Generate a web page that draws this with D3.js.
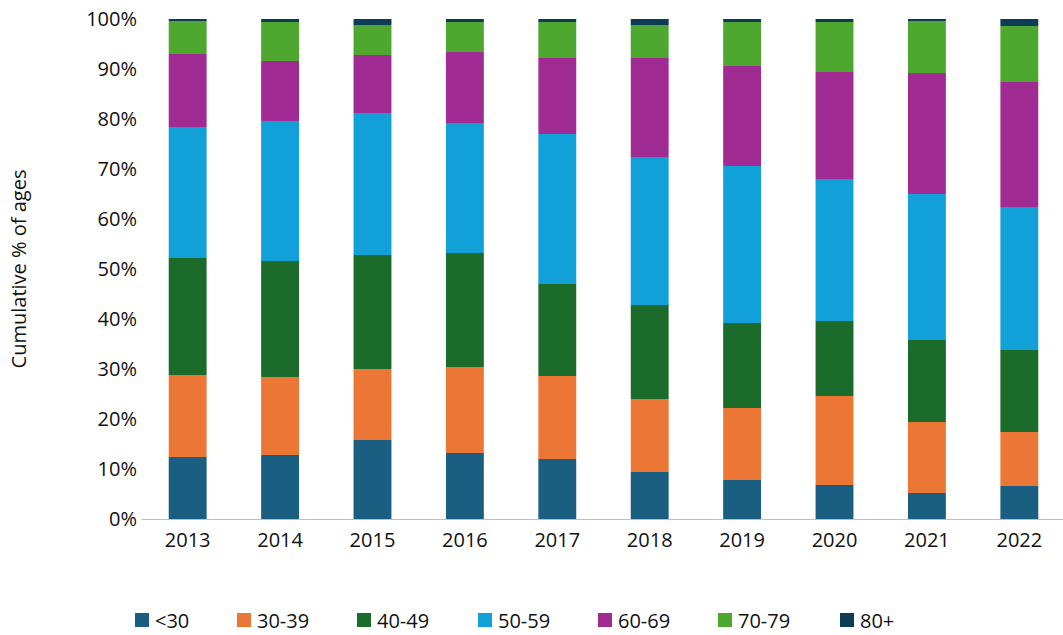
<!DOCTYPE html>
<html><head><meta charset="utf-8">
<script src="https://cdn.jsdelivr.net/npm/d3@7"></script>
<style>body{margin:0;background:#fff}text{font-family:"Open Sans","Liberation Sans",sans-serif;fill:#111}</style>
</head><body><svg id="chart" width="1063" height="635"></svg>
<script>
const years = ["2013","2014","2015","2016","2017","2018","2019","2020","2021","2022"];
const groups = ["<30","30-39","40-49","50-59","60-69","70-79","80+"];
const colors = ["#1a5f82","#ec7635","#1b6b2a","#12a0d8","#a02b92","#4ea72e","#0e3b55"];
// cumulative tops (%) per year, in group order
const cumTops = [
  [12.4,28.8,52.2,78.4,93.0,99.6,100],
  [12.8,28.4,51.6,79.6,91.6,99.4,100],
  [15.8,30.0,52.8,81.2,92.8,98.8,100],
  [13.2,30.4,53.2,79.2,93.4,99.4,100],
  [12.0,28.6,47.0,77.0,92.2,99.4,100],
  [9.4,24.0,42.8,72.4,92.2,98.8,100],
  [7.8,22.2,39.2,70.6,90.6,99.4,100],
  [6.8,24.6,39.6,68.0,89.4,99.4,100],
  [5.2,19.4,35.8,65.0,89.2,99.6,100],
  [6.6,17.4,33.8,62.4,87.4,98.6,100]
];
const yTicks = [0,10,20,30,40,50,60,70,80,90,100];

const svg = d3.select("#chart");
const m = {l:141, r:1066, t:19, b:519};
const x = d3.scaleBand().domain(years).range([m.l, m.r]).paddingInner(0.59).paddingOuter(0.3);
const y = d3.scaleLinear().domain([0,100]).range([m.b, m.t]);

const g = svg.append("g");
years.forEach((yr, i) => {
  cumTops[i].forEach((top, j) => {
    const bot = j ? cumTops[i][j-1] : 0;
    g.append("rect").attr("x", x(yr)).attr("width", x.bandwidth())
      .attr("y", y(top)).attr("height", y(bot) - y(top)).attr("fill", colors[j]);
  });
});

const ya = svg.append("g").attr("transform", `translate(${m.l},0)`)
  .call(d3.axisLeft(y).tickValues(yTicks).tickFormat(d => d + "%").tickSize(0).tickPadding(4));
ya.select(".domain").remove();
ya.selectAll("text").style("font-size","20px");

const xa = svg.append("g").attr("transform", `translate(0,${m.b})`)
  .call(d3.axisBottom(x).tickSize(0).tickPadding(14));
xa.select(".domain").attr("stroke","#bfbfbf");
xa.selectAll("text").style("font-size","20px");

svg.append("text").attr("transform","translate(26,269) rotate(-90)").attr("text-anchor","middle")
  .style("font-size","20px").text("Cumulative % of ages");

const legX = [135,237,357,478,598,718,840];
const lg = svg.append("g");
groups.forEach((gname, j) => {
  lg.append("rect").attr("x", legX[j]).attr("y", 613).attr("width", 14).attr("height", 14).attr("fill", colors[j]);
  lg.append("text").attr("x", legX[j] + 20).attr("y", 628).style("font-size","20px").text(gname);
});
</script></body></html>
